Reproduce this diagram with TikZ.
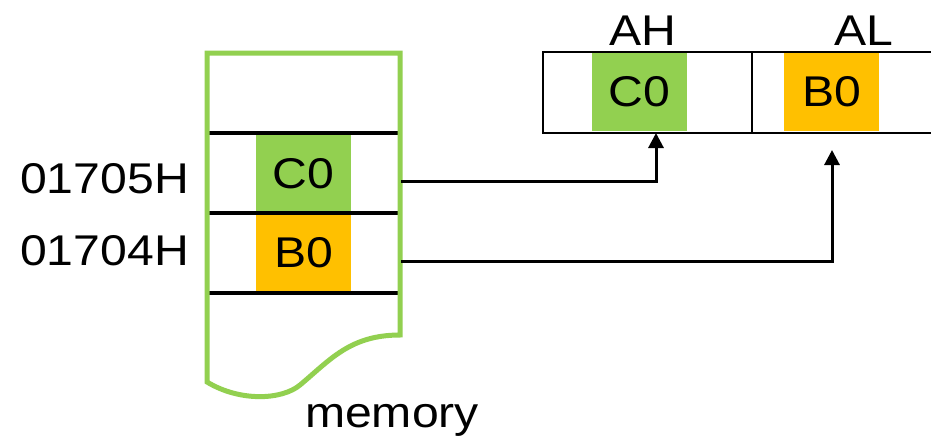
\documentclass[tikz,border=0pt]{standalone}
\usepackage{fontspec}
\setmainfont[FakeStretch=1.12]{Liberation Sans}
\usetikzlibrary{arrows.meta}
\definecolor{mgreen}{HTML}{92D050}
\definecolor{morange}{HTML}{FFC000}
\begin{document}
\begin{tikzpicture}[x=1pt,y=-1pt,
  txt/.style={font=\fontsize{43}{50}\selectfont, inner sep=0pt},
  cell/.style={txt, minimum width=95pt, minimum height=80pt, anchor=north west},
  row/.style={minimum width=193pt, minimum height=80pt, inner sep=0pt, anchor=north west},
  rule/.style={line width=4pt},
  regline/.style={line width=2.8pt},
  arr/.style={line width=3pt, -{Triangle[length=15pt,width=15pt]}}]
\useasboundingbox (0,0) rectangle (931,439);
\clip (0,0) rectangle (931,439);
% memory rows (invisible anchors)
\node[row] (r5) at (207,133) {};
\node[row] (r4) at (207,213) {};
% memory cells
\node[cell, fill=mgreen] (m5) at (256,133) {C0};
\node[cell, fill=morange, minimum height=78pt] (m4) at (256,213) {B0};
% memory rules
\draw[rule] (208,133) -- (399,133);
\draw[rule] (208,213) -- (399,213);
\draw[rule] (208,293) -- (399,293);
% memory outline
\draw[mgreen, line width=5pt, line join=miter]
  (207,53) -- (400,53) -- (400,335)
  .. controls (350,335) and (330,360) .. (300,385)
  .. controls (282,400) and (240,402) .. (207,382) -- cycle;
% register cells
\node[cell, fill=mgreen, minimum height=79pt] (ah) at (592,52) {C0};
\node[cell, fill=morange, minimum height=79pt] (al) at (784,52) {B0};
\draw[regline] (945,52) -- (543,52) -- (543,133) -- (945,133);
\draw[regline] (752,52) -- (752,133);
% labels
\node[txt, anchor=base west] (a5) at (20,193) {01705H};
\node[txt, anchor=base west] (a4) at (20,265) {01704H};
\node[txt, anchor=base] (lah) at (643,45) {AH};
\node[txt, anchor=base] (lal) at (864,45) {AL};
\node[txt, anchor=base] (lmem) at (392,427) {memory};
% arrows
\coordinate (s1) at (401,181);
\coordinate (s2) at (401,261);
\coordinate (t1) at (656,133);
\coordinate (t2) at (832,150);
\draw[arr] (s1) -| (t1);
\draw[arr] (s2) -| (t2);
\end{tikzpicture}
\end{document}
